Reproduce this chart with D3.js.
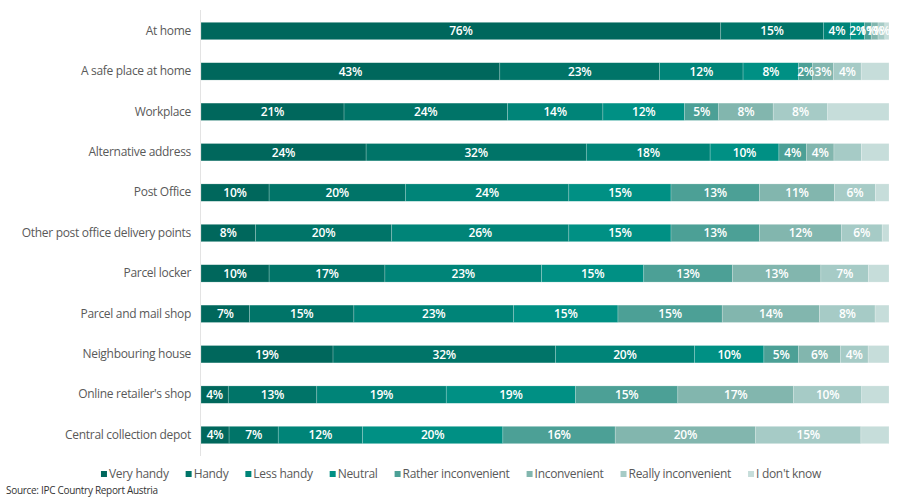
<!DOCTYPE html>
<html><head><meta charset="utf-8">
<script src="https://cdn.jsdelivr.net/npm/d3@7"></script>
<style>body{margin:0;background:#fff}svg{display:block}text{font-family:"Open Sans",sans-serif}</style>
</head><body><svg id="c" width="900" height="504"></svg>
<script>
const categories = ["At home","A safe place at home","Workplace","Alternative address","Post Office","Other post office delivery points","Parcel locker","Parcel and mail shop","Neighbouring house","Online retailer's shop","Central collection depot"];
const seriesNames = ["Very handy","Handy","Less handy","Neutral","Rather inconvenient","Inconvenient","Really inconvenient","I don't know"];
const colors = ["#00675c","#007468","#008478","#009084","#4ca096","#82b6ae","#a6cbc6","#c6ddda"];
const veryHandy   = [76,43,21,24,10,8,10,7,19,4,4];
const handy       = [15,23,24,32,20,20,17,15,32,13,7];
const lessHandy   = [4,12,14,18,24,26,23,23,20,19,12];
const neutral     = [2,8,12,10,15,15,15,15,10,19,20];
const ratherInc   = [1,2,5,4,13,13,13,15,5,15,16];
const inconvenient= [1,3,8,4,11,12,13,14,6,17,20];
const reallyInc   = [1,4,8,4,6,6,7,8,4,10,15];
const dontKnow    = [0.6,4,9,4,2,1,3,2,3,4,4];
const labelShown  = [
  [1,1,1,1,1,1,1,0],[1,1,1,1,1,1,1,0],[1,1,1,1,1,1,1,0],[1,1,1,1,1,1,0,0],
  [1,1,1,1,1,1,1,0],[1,1,1,1,1,1,1,0],[1,1,1,1,1,1,1,0],[1,1,1,1,1,1,1,0],
  [1,1,1,1,1,1,1,0],[1,1,1,1,1,1,1,0],[1,1,1,1,1,1,1,0]];
const series = [veryHandy,handy,lessHandy,neutral,ratherInc,inconvenient,reallyInc,dontKnow];

const rows = categories.map((c,i)=>{const o={cat:c,idx:i};seriesNames.forEach((s,j)=>o[s]=series[j][i]);return o;});
const stack = d3.stack().keys(seriesNames).offset(d3.stackOffsetExpand)(rows);

const svg = d3.select("#c");
const x = d3.scaleLinear().domain([0,1]).range([201,889]);
const y = d3.scaleBand().domain(categories).range([11,455]).paddingInner(0.57).paddingOuter(0.28);

svg.append("line").attr("x1",200.5).attr("x2",200.5).attr("y1",10).attr("y2",456).attr("stroke","#e3e3e3");

const g = svg.append("g");
stack.forEach((layer,j)=>{
  g.append("g").selectAll("rect").data(layer).join("rect")
    .attr("x",d=>x(d[0])).attr("width",d=>x(d[1])-x(d[0]))
    .attr("y",d=>y(d.data.cat)).attr("height",y.bandwidth())
    .attr("fill",colors[j]).attr("stroke","rgba(255,255,255,0.35)").attr("stroke-width",0.6);
});
stack.forEach((layer,j)=>{
  g.append("g").selectAll("text").data(layer.filter(d=>labelShown[d.data.idx][j])).join("text")
    .attr("x",d=>(x(d[0])+x(d[1]))/2).attr("y",d=>y(d.data.cat)+y.bandwidth()/2)
    .attr("dy","0.36em").attr("text-anchor","middle").attr("fill","#fff")
    .attr("font-size",12).attr("font-weight",600).attr("letter-spacing",-0.2)
    .text(d=>Math.round(d.data[seriesNames[j]])+"%");
});

const yAxis = svg.append("g").attr("transform","translate(200,0)").call(d3.axisLeft(y).tickSize(0).tickPadding(9));
yAxis.select(".domain").remove();
yAxis.selectAll("text").attr("fill","#595959").attr("font-size",12).attr("font-family","Open Sans").attr("letter-spacing",-0.3);

// legend
const leg = svg.append("g");
let lx = 0;
seriesNames.forEach((s,j)=>{
  const it = leg.append("g").attr("transform",`translate(${lx},0)`);
  it.append("rect").attr("x",0).attr("y",-3).attr("width",6).attr("height",6).attr("fill",colors[j]);
  const t = it.append("text").attr("x",8).attr("y",0).attr("dy","0.35em").attr("font-size",12).attr("letter-spacing",-0.3).attr("fill","#595959").text(s);
  lx += 8 + t.node().getComputedTextLength() + 17;
});
const lw = lx - 17;
leg.attr("transform",`translate(${461 - lw/2},474)`);

svg.append("text").attr("x",6).attr("y",494).attr("font-size",10).attr("letter-spacing",-0.3).attr("fill","#333").text("Source: IPC Country Report Austria");
</script></body></html>
